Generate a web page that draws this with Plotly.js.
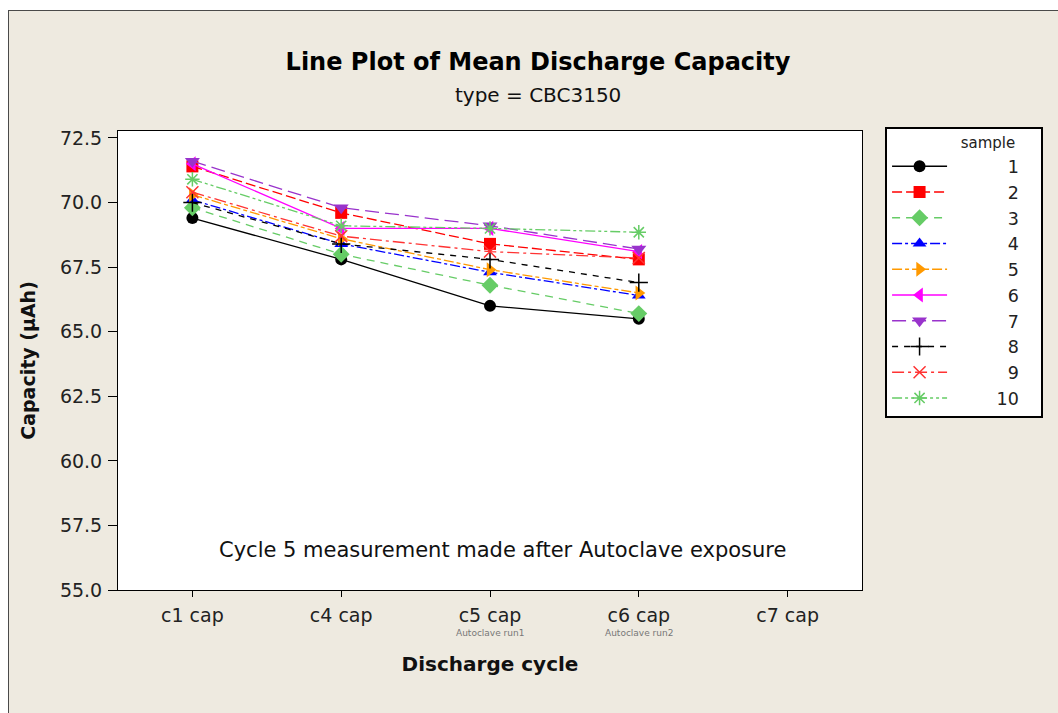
<!DOCTYPE html>
<html>
<head>
<meta charset="utf-8">
<script src="https://cdn.plot.ly/plotly-3.0.1.min.js"></script>
<style>
  html, body { margin: 0; padding: 0; background: #ffffff; overflow: hidden; width: 1058px; height: 713px; }
  #frame { position: absolute; left: 8px; top: 10px; border: 1px solid #4a4a4a; background: #eeeae0; width: 1060px; height: 710px; }
  #chart { width: 1060px; height: 710px; }
</style>
</head>
<body>
<div id="frame"><div id="chart"></div></div>
<script>
// ---- data ----
const categories = ['c1 cap', 'c4 cap', 'c5 cap', 'c6 cap', 'c7 cap'];
const measuredCats = ['c1 cap', 'c4 cap', 'c5 cap', 'c6 cap'];
const sampleNames = ['1', '2', '3', '4', '5', '6', '7', '8', '9', '10'];
const sample1  = [69.4, 67.8, 66.0, 65.5];
const sample2  = [71.4, 69.6, 68.4, 67.8];
const sample3  = [69.8, 68.0, 66.8, 65.7];
const sample4  = [70.1, 68.4, 67.3, 66.4];
const sample5  = [70.3, 68.6, 67.4, 66.5];
const sample6  = [71.5, 69.0, 69.0, 68.1];
const sample7  = [71.6, 69.8, 69.1, 68.2];
const sample8  = [70.0, 68.4, 67.8, 66.9];
const sample9  = [70.4, 68.7, 68.1, 67.85];
const sample10 = [70.9, 69.1, 69.0, 68.85];
const yTickVals = [55.0, 57.5, 60.0, 62.5, 65.0, 67.5, 70.0, 72.5];
const subLabels = [['c5 cap', 'Autoclave run1'], ['c6 cap', 'Autoclave run2']];

// ---- styles ----
const series = [sample1, sample2, sample3, sample4, sample5, sample6, sample7, sample8, sample9, sample10];
const colors = ['#000000', '#ff0000', '#66cc66', '#0000ff', '#ff9900', '#ff00ff', '#9933cc', '#000000', '#ff3333', '#66cc66'];
const symbols = ['circle', 'square', 'diamond', 'triangle-up', 'triangle-right', 'triangle-left', 'triangle-down', 'cross-thin', 'x-thin', 'asterisk'];
const dashes = ['solid', '10px,4px', '8px,6px', '10px,3px,3px,3px', '10px,3px,4px,3px', 'solid', '14px,6px', '6px,6px', '12px,4px,3px,4px', '10px,3px,3px,3px,3px,3px'];
const sizes = [12, 12, 13, 12, 13, 13, 13, 13, 12, 12];

const nb = '\u00a0';
const traces = series.map((vals, i) => ({
  type: 'scatter',
  mode: 'lines+markers',
  x: measuredCats,
  y: vals,
  name: nb.repeat(12 - 2 * sampleNames[i].length) + sampleNames[i] + nb.repeat(3),
  line: { color: colors[i], width: 1.3, dash: dashes[i] },
  marker: {
    symbol: symbols[i], color: colors[i], size: sizes[i],
    line: { color: colors[i], width: (i >= 7) ? 1.5 : 0 }
  }
}));

const fontFam = 'DejaVu Sans, Verdana, sans-serif';

const annotations = [
  {
    text: 'type = CBC3150', xref: 'paper', yref: 'paper', x: 0.5645, y: 1.078,
    showarrow: false, font: { family: fontFam, size: 20, color: '#111' }, xanchor: 'center', yanchor: 'middle'
  },
  {
    text: 'Cycle 5 measurement made after Autoclave exposure', xref: 'x', yref: 'y', x: 2.087, y: 56.55,
    showarrow: false, font: { family: fontFam, size: 21, color: '#111' }, xanchor: 'center', yanchor: 'middle'
  }
].concat(subLabels.map(s => ({
  text: s[1], xref: 'x', yref: 'paper', x: s[0], y: -0.094,
  showarrow: false, font: { family: fontFam, size: 9, color: '#777' }, xanchor: 'center', yanchor: 'middle'
})));

const layout = {
  width: 1060, height: 710,
  margin: { l: 109, r: 207, t: 120, b: 131, autoexpand: false },
  paper_bgcolor: 'rgba(0,0,0,0)',
  plot_bgcolor: '#ffffff',
  font: { family: fontFam, color: '#111' },
  title: {
    text: '<b>Line Plot of Mean Discharge Capacity</b>',
    font: { family: fontFam, size: 24, color: '#000' },
    x: 529 / 1060, xref: 'container', xanchor: 'center',
    y: 1 - 51 / 710, yref: 'container', yanchor: 'middle'
  },
  xaxis: {
    type: 'category',
    categoryorder: 'array', categoryarray: categories,
    range: [-0.5, 4.5],
    showline: true, linecolor: '#000', linewidth: 1, mirror: true,
    ticks: 'outside', ticklen: 6, tickcolor: '#000',
    showgrid: false, zeroline: false,
    tickfont: { family: fontFam, size: 19, color: '#222' },
    ticklabelstandoff: 2,
    title: { text: '<b>Discharge cycle</b>', font: { family: fontFam, size: 20, color: '#111' }, standoff: 32 }
  },
  yaxis: {
    range: [55, 72.77],
    tickvals: yTickVals,
    tickformat: '.1f',
    showline: true, linecolor: '#000', linewidth: 1, mirror: true,
    ticks: 'outside', ticklen: 9, tickcolor: '#000',
    showgrid: false, zeroline: false,
    tickfont: { family: fontFam, size: 19, color: '#222' },
    ticklabelstandoff: 2,
    title: { text: '<b>Capacity (µAh)</b>', font: { family: fontFam, size: 19, color: '#111' }, standoff: 19 }
  },
  legend: {
    x: 1.031, xanchor: 'left', y: 1.009, yanchor: 'top',
    bgcolor: '#ffffff', bordercolor: '#000', borderwidth: 2,
    font: { family: fontFam, size: 17.5, color: '#222' },
    title: { text: 'sample' + nb.repeat(5), side: 'top right', font: { family: fontFam, size: 15, color: '#222' } },
    itemwidth: 55,
    tracegroupgap: 0
  },
  annotations: annotations,
  showlegend: true
};

Plotly.newPlot('chart', traces, layout, { staticPlot: true, displayModeBar: false });
</script>
</body>
</html>
